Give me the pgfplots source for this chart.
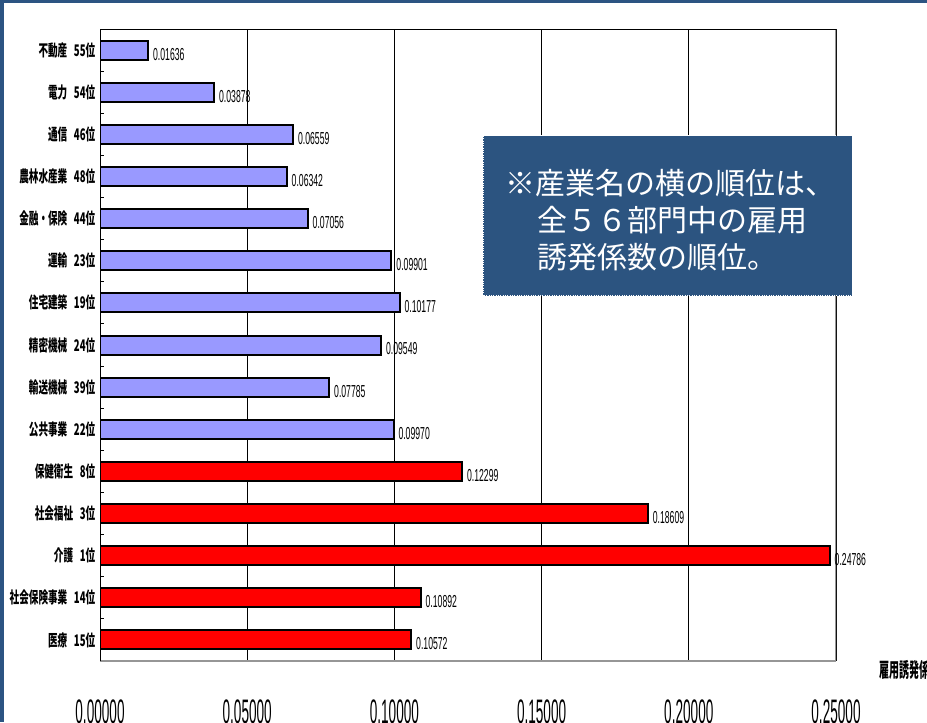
\documentclass[border=0pt]{standalone}
\usepackage{fontspec}
\usepackage{pgfplots}
\pgfplotsset{compat=1.18}
\newfontfamily\catfont[FakeStretch=0.6]{Noto Sans CJK JP}
\newfontfamily\valfont[FakeStretch=0.5]{Liberation Sans}
\newfontfamily\tickfont[FakeStretch=0.4]{Liberation Sans}
\newfontfamily\unitfont[FakeStretch=0.5]{Noto Sans CJK JP}
\newfontfamily\notefont{Noto Sans CJK JP}
\definecolor{framblue}{RGB}{44,84,130}
\definecolor{boxblue}{RGB}{44,84,128}
\definecolor{barblue}{RGB}{153,153,255}
\definecolor{edgegray}{RGB}{150,150,150}

\begin{document}
\begin{tikzpicture}[x=0.75pt,y=0.75pt]
\fill[white] (0,0) rectangle (927,722);
\coordinate (axorigin) at (100,61);
\begin{axis}[
  at={(axorigin)}, anchor=south west,
  width=552pt, height=474pt, scale only axis,
  xmin=0, xmax=0.25, ymin=-0.5, ymax=14.5, y dir=reverse,
  axis line style={draw=none},
  xtick={0,0.05,0.10,0.15,0.20,0.25},
  xticklabels={0.00000,0.05000,0.10000,0.15000,0.20000,0.25000},
  xmajorgrids, major grid style={black, line width=0.75pt},
  major tick length=0pt,
  ytick={0,...,14},
  yticklabels={
    不動産\hspace{5pt}55位, 電力\hspace{5pt}54位, 通信\hspace{5pt}46位,
    農林水産業\hspace{5pt}48位, 金融・保険\hspace{5pt}44位, 運輸\hspace{5pt}23位,
    住宅建築\hspace{5pt}19位, 精密機械\hspace{5pt}24位, 輸送機械\hspace{5pt}39位,
    公共事業\hspace{5pt}22位, 保健衛生\hspace{5pt}8位, 社会福祉\hspace{5pt}3位,
    介護\hspace{5pt}1位, 社会保険事業\hspace{5pt}14位, 医療\hspace{5pt}15位},
  minor ytick={0.5,1.5,...,13.5},
  minor tick length=3pt, tick align=inside,
  ytick pos=left, xtick pos=bottom,
  minor tick style={black, line width=0.75pt},
  yticklabel style={font=\catfont\bfseries\fontsize{12}{13}\selectfont},
  xticklabel style={font=\tickfont\fontsize{25.5}{28}\selectfont,
    inner sep=0pt, anchor=north, yshift=-29pt},
  nodes near coords,
  point meta=explicit symbolic,
  nodes near coords style={font=\valfont\fontsize{13}{14}\selectfont,
    anchor=west, inner sep=0pt, xshift=3pt, yshift=-3pt},
]
\addplot[xbar, bar shift=0pt, bar width=14.25pt, fill=barblue, draw=black,
  line width=1.5pt] coordinates {
  (0.01636,0) [0.01636]
  (0.03878,1) [0.03878]
  (0.06559,2) [0.06559]
  (0.06342,3) [0.06342]
  (0.07056,4) [0.07056]
  (0.09901,5) [0.09901]
  (0.10177,6) [0.10177]
  (0.09549,7) [0.09549]
  (0.07785,8) [0.07785]
  (0.09970,9) [0.09970]
};
\addplot[xbar, bar shift=0pt, bar width=14.25pt, fill=red, draw=black,
  line width=1.5pt] coordinates {
  (0.12299,10) [0.12299]
  (0.18609,11) [0.18609]
  (0.24786,12) [0.24786]
  (0.10892,13) [0.10892]
  (0.10572,14) [0.10572]
};
\draw[edgegray, line width=2.25pt] (rel axis cs:0,0) -- (rel axis cs:1,0);
\draw[edgegray, line width=1.5pt] (rel axis cs:1,0) -- (rel axis cs:1,1);
\draw[black, line width=1.1pt] (rel axis cs:0,0) -- (rel axis cs:0,1);
\draw[black, line width=1.5pt] (rel axis cs:0,1) -- (rel axis cs:1,1);
\end{axis}
% frame
\fill[framblue] (0,718.5) rectangle (927,722);
\fill[framblue] (0,0) rectangle (3.5,722);
% note box
\filldraw[fill=boxblue, draw=white, densely dotted, line width=0.75pt]
  (483,586) rectangle (852,426);
\node[anchor=base west, inner sep=0pt, text=white,
  font=\notefont\fontsize{22.5}{27}\selectfont] at (505,527.6) {※産業名の横の順位は、};
\node[anchor=base west, inner sep=0pt, text=white,
  font=\notefont\fontsize{22.5}{27}\selectfont] at (537,490.6) {全５６部門中の雇用};
\node[anchor=base west, inner sep=0pt, text=white,
  font=\notefont\fontsize{22.5}{27}\selectfont] at (537,453.6) {誘発係数の順位。};
% unit
\node[anchor=west, inner sep=0pt, font=\unitfont\bfseries\fontsize{15}{16}\selectfont]
  at (879,52) {雇用誘発係数};
\pgfresetboundingbox
\path[use as bounding box] (0,0) rectangle (927,722);
\end{tikzpicture}
\end{document}
